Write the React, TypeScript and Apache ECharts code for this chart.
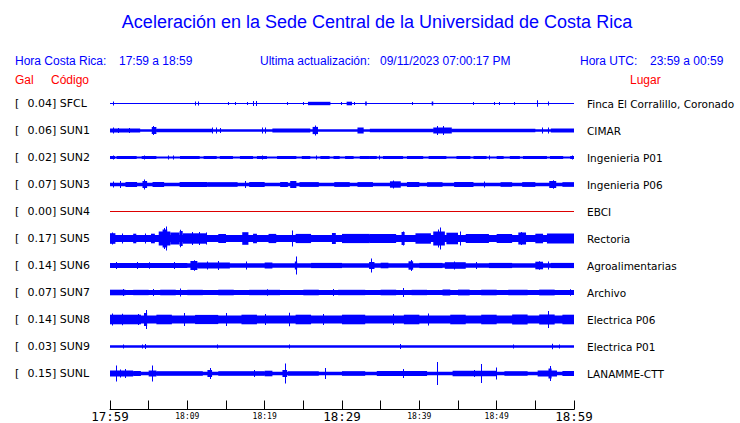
import React, { useEffect, useRef } from "react";
import * as echarts from "echarts";

// ---- data ----
const stationCodes = ["SFCL", "SUN1", "SUN2", "SUN3", "SUN4", "SUN5", "SUN6", "SUN7", "SUN8", "SUN9", "SUNL"];
const peakGal = ["0.04", "0.06", "0.02", "0.07", "0.00", "0.17", "0.14", "0.07", "0.14", "0.03", "0.15"];
const places = [
  "Finca El Corralillo, Coronado",
  "CIMAR",
  "Ingenieria P01",
  "Ingenieria P06",
  "EBCI",
  "Rectoria",
  "Agroalimentarias",
  "Archivo",
  "Electrica P06",
  "Electrica P01",
  "LANAMME-CTT",
];
const tickMinutes = [0, 10, 20, 30, 40, 50, 60];
const tickLabels = ["17:59", "18:09", "18:19", "18:29", "18:39", "18:49", "18:59"];
const majorLabels = ["17:59", "18:29", "18:59"];

// background amplitude of each trace (trace units)
const baseAmp = [0.5, 1.3, 1.0, 1.8, 0.5, 3.6, 2.3, 2.4, 4.0, 1.3, 1.7];

// bursts: [start minute, end minute, half amplitude]
const burstsSFCL = [
  [0.4, 0.4, 2], [11.0, 11.0, 2], [11.4, 11.4, 2], [15.3, 15.3, 1.5], [16.2, 16.2, 1.5],
  [17.7, 17.7, 1.5], [18.5, 18.5, 2.5], [18.9, 18.9, 2.5], [22.9, 22.9, 1.5], [25.0, 25.0, 1.5],
  [25.6, 28.5, 1.7], [29.9, 29.9, 1.5], [30.6, 31.3, 1.8], [31.6, 31.6, 1.5], [33.0, 33.2, 2],
  [39.1, 39.1, 1.5], [41.6, 41.8, 2], [47.0, 47.0, 1.5], [49.6, 49.6, 1.5], [50.3, 50.3, 1.5],
  [52.2, 52.2, 1.5], [55.2, 55.2, 3.3], [56.6, 56.6, 2],
];
const burstsSUN1 = [
  [0, 3.9, 2.0], [0.4, 0.4, 3], [1.0, 1.0, 2.5], [2.5, 2.5, 2.5], [5.4, 6.0, 3.5], [5.6, 5.6, 4.5],
  [6.0, 13.2, 1.7], [13.2, 13.2, 3], [13.7, 13.7, 3], [14.2, 14.2, 2.5], [19.6, 19.6, 3],
  [20.1, 20.1, 3], [21, 25.9, 1.9], [26.2, 26.9, 3.6], [26.5, 26.5, 5], [32.0, 32.8, 3.0],
  [33.6, 41.8, 1.7], [41.8, 44.2, 3.0], [42.3, 42.3, 4.5], [43.0, 43.0, 4.5], [44.2, 55, 1.7],
  [55.8, 55.8, 3], [56.7, 56.7, 3], [57, 60, 2.0],
];
const burstsSUN2 = [
  [0, 0.65, 1.5], [0.86, 3.45, 1.5], [4.1, 6.0, 1.5], [9.05, 11.6, 1.5], [12.1, 13.8, 1.5],
  [14.2, 15.9, 1.5], [16.8, 18.5, 1.5], [19.0, 20.3, 1.5], [21.6, 24.1, 1.5], [24.8, 25.9, 1.5],
  [27.2, 28.4, 1.5], [28.9, 29.7, 1.5], [30.4, 31.5, 1.5], [32.3, 33.6, 1.5], [33.6, 34.5, 1.5],
  [35.3, 37.9, 1.5], [38.4, 40.5, 1.5], [41.2, 43.5, 1.5], [44.8, 46.6, 1.5], [47, 48.7, 1.5],
  [50, 50.9, 1.5], [51.7, 53, 1.5], [53.4, 56.5, 1.5], [56.9, 58.6, 1.5], [59.5, 60, 1.5],
  [0.4, 0.4, 2], [4.4, 4.4, 2], [7.5, 7.5, 2], [8.2, 8.2, 2], [19.6, 19.6, 2], [26.6, 26.6, 2],
  [34.8, 34.8, 2], [49, 49, 2], [59.7, 59.7, 2],
];
const burstsSUN3 = [
  [0.4, 0.4, 3], [1.3, 1.3, 3.5], [2, 3.5, 2.5], [4.2, 4.8, 3.5], [4.4, 4.4, 5], [5.5, 7, 2.5],
  [9, 12.6, 2.5], [12.6, 16.5, 2.3], [17.5, 17.5, 3.5], [18, 20, 2.5], [22, 23, 2.5],
  [23.3, 24.1, 3.5], [24.5, 27, 2.4], [29, 31, 2.4], [32, 34, 2.4], [36.2, 37.6, 3.2],
  [36.6, 36.6, 4], [38.4, 40, 2.5], [41, 43, 2.3], [44.5, 47, 2.5], [48.3, 48.3, 3],
  [50.5, 52, 2.3], [53.3, 55, 2.4], [56.8, 57.7, 3.5], [57.3, 57.3, 4.3], [58.5, 60, 2.3],
];
const burstsSUN4: number[][] = [];
const burstsSUN5 = [
  [0, 0.7, 5.3], [0.2, 0.2, 6], [1.5, 1.5, 5], [3, 3.4, 4.8], [4.5, 4.5, 5], [5.3, 5.8, 4.8],
  [6.3, 7.8, 7], [6.8, 7.4, 9], [7.0, 7.0, 10.5], [7.2, 7.2, 12], [7.8, 9.0, 6], [9.0, 9.4, 7.5],
  [9.05, 9.05, 8.7], [9.4, 12.5, 5.2], [10.6, 10.6, 6.5], [11.5, 11.5, 6.5], [12.4, 12.4, 6],
  [14, 15, 4.5], [17.1, 17.9, 6.3], [18.5, 19, 4.8], [20.5, 21.5, 4.6], [23.5, 23.5, 8],
  [24, 26, 4.6], [28.7, 29.2, 5.5], [30, 33.6, 4.6], [33.6, 37, 4.5], [37.7, 38.1, 6.5],
  [37.9, 37.9, 7], [39.5, 41.5, 5.2], [41.8, 43.3, 7], [42.4, 42.4, 9], [42.7, 42.7, 11],
  [43.5, 45, 5.8], [45.3, 45.3, 7], [46, 49, 4.5], [50, 52, 4.6], [52.8, 53.8, 6],
  [53.2, 53.2, 6.5], [55, 56, 4.8], [56.5, 60, 5],
];
const burstsSUN6 = [
  [0, 10, 2.6], [0.8, 0.8, 3.5], [3.5, 3.5, 3.5], [5, 5, 3.2], [8.3, 8.3, 3.5], [10.4, 11.3, 4.5],
  [10.8, 10.8, 5.3], [11.3, 15.5, 3.1], [12.6, 12.6, 4], [14, 14, 4.5], [17.6, 17.6, 4],
  [20, 21, 3], [23.9, 24.2, 4], [24.05, 24.05, 9], [26, 30, 2.6], [33.5, 34.2, 3.5],
  [33.8, 33.8, 7], [35, 36, 2.8], [38.6, 39.2, 4.2], [38.9, 38.9, 5.5], [40, 43, 2.6],
  [43.3, 46, 3.3], [44.5, 44.5, 4], [47.3, 47.3, 3.5], [49, 52, 2.6], [55, 56, 3.8],
  [55.5, 55.5, 4.3], [56.7, 56.7, 4], [57, 60, 2.6],
];
const burstsSUN7 = [
  [0, 2, 2.8], [1.7, 1.7, 3.5], [3, 5, 2.7], [5.6, 5.6, 3.5], [6.5, 8.5, 2.8], [9.05, 9.05, 4],
  [10, 12, 2.7], [14, 16, 2.8], [18, 22, 2.7], [20.3, 20.3, 3.3], [25, 27, 2.8], [28.9, 28.9, 3.5],
  [29.5, 33, 2.7], [35, 37, 2.8], [37.9, 37.9, 4.5], [39, 41, 2.7], [43, 44, 3], [45, 46.5, 2.9],
  [48, 50, 2.8], [51.5, 54, 2.7], [55.5, 57.5, 2.9], [59.5, 59.5, 3.2],
];
const burstsSUN8 = [
  [0, 4, 4.8], [0.3, 0.3, 6], [1.5, 1.5, 5.8], [3.6, 3.6, 5.5], [4.4, 4.8, 6.5], [4.6, 4.6, 9.5],
  [6, 8, 4.8], [9.6, 9.6, 6.5], [11, 14, 4.6], [15, 15, 6.5], [17, 19, 4.8], [20, 20, 5.5],
  [23.1, 23.1, 6.8], [24, 26, 4.8], [27.5, 27.5, 5.5], [30, 33, 4.8], [36.6, 36.6, 5.5], [38, 40, 4.8],
  [41.1, 41.1, 6], [44, 46, 4.8], [48, 50, 4.8], [52, 54, 5.0], [55.5, 57.5, 5.0], [56.6, 56.6, 8.5],
  [58.5, 60, 4.8],
];
const burstsSUN9 = [
  [1.7, 1.7, 2], [4.2, 4.2, 2], [4.5, 4.5, 2.5], [13.8, 13.8, 2], [23.1, 23.1, 2],
  [37.5, 37.5, 2.5], [52.1, 52.1, 2], [57.1, 57.1, 2.7], [58, 58, 2],
];
const burstsSUNL = [
  [0, 3, 3], [0.8, 0.8, 8], [1.3, 1.3, 4], [2.0, 2.0, 4.5], [3, 4, 2.5], [5, 6, 3], [5.4, 5.4, 8],
  [6, 12, 2.2], [12.6, 13.2, 3.5], [12.9, 12.9, 5.5], [14, 20, 2.2], [18.6, 18.6, 3.5],
  [20, 21, 2.8], [22.3, 22.9, 3.5], [22.6, 22.6, 10], [23, 27, 2.2], [27.8, 27.8, 5.5],
  [30, 33, 2.3], [34.5, 41, 2.6], [37.9, 37.9, 4.5], [42.3, 42.3, 11.5], [44.3, 50, 2.7],
  [47.1, 47.1, 3.5], [48, 48, 9.5], [49.9, 49.9, 6], [51, 54, 2.3], [55.3, 57.8, 3],
  [56.7, 57.1, 5], [56.9, 56.9, 7.5], [58.5, 60, 2.5],
];
const bursts = [
  burstsSFCL, burstsSUN1, burstsSUN2, burstsSUN3, burstsSUN4, burstsSUN5,
  burstsSUN6, burstsSUN7, burstsSUN8, burstsSUN9, burstsSUNL,
];

// ---- layout / style ----
const ROW = 27;
const BLUE = "#0000ff";
const RED = "#ff0000";
const traceColors = stationCodes.map((c) => (c === "SUN4" ? "#dd0000" : BLUE));

export default function App() {
  const ref = useRef<HTMLDivElement>(null);

  useEffect(() => {
    if (!ref.current) return;
    const chart = echarts.init(ref.current, undefined, { renderer: "svg" });

    const series = stationCodes.map((code, i) => ({
      type: "custom",
      name: code,
      encode: { x: [0, 1], y: 2 },
      data: [[0, 60, baseAmp[i]], ...bursts[i]],
      renderItem: (params: any, api: any) => {
        const t0 = api.value(0);
        const t1 = api.value(1);
        const a = api.value(2);
        const c = ROW * (i + 1);
        const p0 = api.coord([t0, c - a]);
        const p1 = api.coord([t1, c + a]);
        let x = p0[0];
        let w = p1[0] - p0[0];
        if (w < 1) {
          x = Math.round(x);
          w = 1;
        }
        const y = Math.min(p0[1], p1[1]);
        const h = Math.max(1, Math.abs(p1[1] - p0[1]));
        return {
          type: "rect",
          shape: { x, y, width: w, height: h },
          style: { fill: traceColors[i] },
        };
      },
    }));

    const headerFont = "Liberation Sans, Arial, sans-serif";
    const txt = (text: string, x: number, y: number, color: string, size = 12, align = "left") => ({
      type: "text",
      x,
      y,
      style: {
        text,
        fill: color,
        font: `${size}px ${headerFont}`,
        textAlign: align,
        textVerticalAlign: "middle",
      },
    });

    chart.setOption({
      animation: false,
      backgroundColor: "#ffffff",
      grid: {
        left: 110,
        width: 464,
        top: 76.5,
        height: ROW * 12,
        containLabel: false,
        outerBoundsMode: "none",
      },
      xAxis: {
        type: "value",
        position: "bottom",
        min: 0,
        max: 60,
        interval: 5,
        offset: 9,
        axisLine: { show: true, onZero: false, lineStyle: { color: "#000", width: 1 } },
        axisTick: { show: true, inside: true, length: 9, lineStyle: { color: "#000", width: 1 } },
        splitLine: { show: false },
        axisLabel: {
          margin: 7,
          verticalAlign: "middle",
          color: "#000",
          formatter: (v: number) => {
            const k = tickMinutes.indexOf(v);
            if (k < 0) return "";
            const lab = tickLabels[k];
            return majorLabels.includes(lab) ? `{big|${lab}}` : `{small|${lab}}`;
          },
          rich: {
            big: { fontSize: 12.5, fontFamily: "DejaVu Sans Mono", color: "#000" },
            small: { fontSize: 8, fontFamily: "DejaVu Sans Mono", color: "#000" },
          },
        },
      },
      yAxis: [
        {
          type: "value",
          min: 0,
          max: ROW * 12,
          interval: ROW,
          inverse: true,
          position: "left",
          axisLine: { show: false },
          axisTick: { show: false },
          splitLine: { show: false },
          axisLabel: {
            margin: 95,
            align: "left",
            verticalAlign: "middle",
            formatter: (v: number) => {
              const k = Math.round(v / ROW) - 1;
              if (k < 0 || k >= stationCodes.length) return "";
              return `{a|[}{b|${peakGal[k]}] ${stationCodes[k]}}`;
            },
            rich: {
              a: { width: 12.5, fontSize: 11, fontFamily: "DejaVu Sans", color: "#000" },
              b: { fontSize: 11, fontFamily: "DejaVu Sans", color: "#000" },
            },
          },
        },
        {
          type: "value",
          min: 0,
          max: ROW * 12,
          interval: ROW,
          inverse: true,
          position: "right",
          axisLine: { show: false },
          axisTick: { show: false },
          splitLine: { show: false },
          axisLabel: {
            margin: 13,
            align: "left",
            verticalAlign: "middle",
            fontSize: 10.5,
            fontFamily: "DejaVu Sans",
            color: "#000",
            formatter: (v: number) => {
              const k = Math.round(v / ROW) - 1;
              if (k < 0 || k >= places.length) return "";
              return places[k];
            },
          },
        },
      ],
      series,
      graphic: [
        txt("Aceleración en la Sede Central de la Universidad de Costa Rica", 377, 22, BLUE, 18, "center"),
        txt("Hora Costa Rica:", 15, 61, BLUE),
        txt("17:59 a 18:59", 119, 61, BLUE),
        txt("Ultima actualización:", 260, 61, BLUE),
        txt("09/11/2023 07:00:17 PM", 380, 61, BLUE),
        txt("Hora UTC:", 580, 61, BLUE),
        txt("23:59 a 00:59", 650, 61, BLUE),
        txt("Gal", 15, 80, RED),
        txt("Código", 51, 80, RED),
        txt("Lugar", 630, 80, RED),
      ],
    });

    return () => chart.dispose();
  }, []);

  return (
    <div
      ref={ref}
      style={{ position: "absolute", left: 0, top: 0, width: 740, height: 423, background: "#fff" }}
    />
  );
}
